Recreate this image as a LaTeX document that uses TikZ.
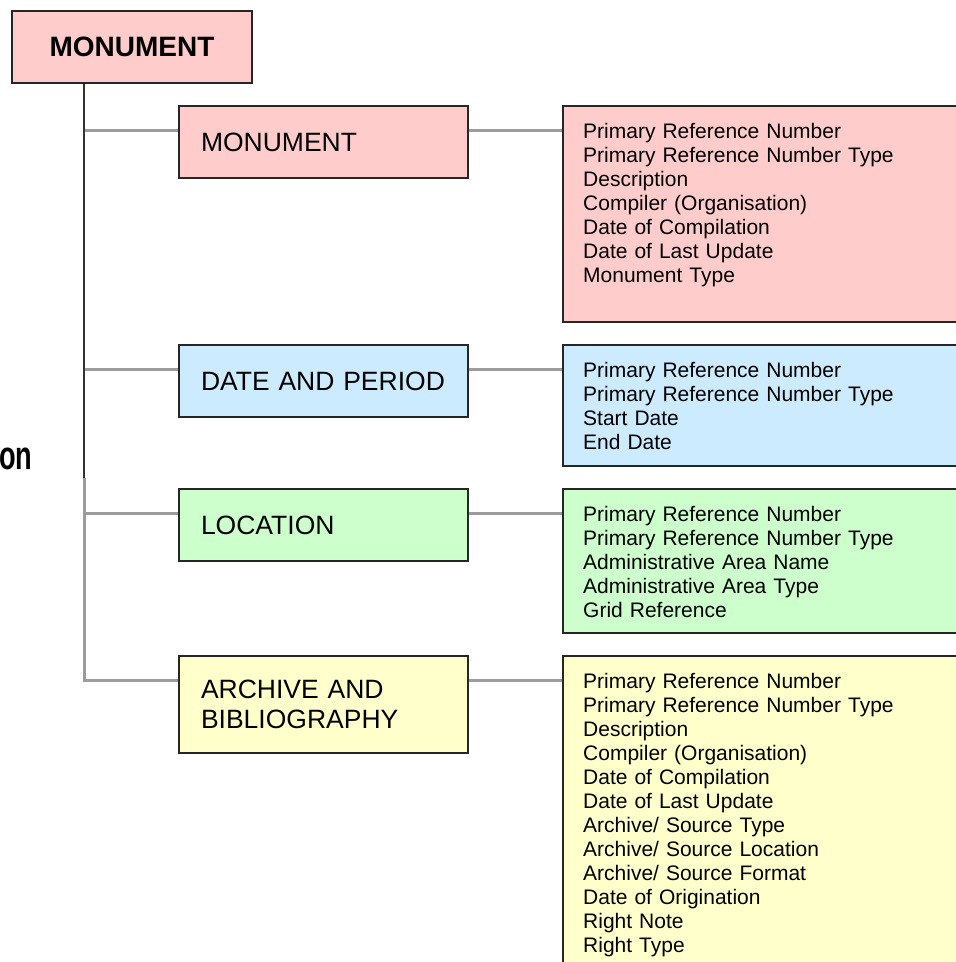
\documentclass[tikz,border=0pt]{standalone}
\usepackage{fontspec}
\setmainfont{Liberation Sans}
\usetikzlibrary{positioning}

\definecolor{monpink}{HTML}{FFCCCC}
\definecolor{dateblue}{HTML}{CCEBFF}
\definecolor{locgreen}{HTML}{CCFFCC}
\definecolor{archyellow}{HTML}{FFFFCC}
\definecolor{linegray}{HTML}{9C9C9C}

\tikzset{
    headbox/.style={draw=black!85, line width=2pt, anchor=north west,
        minimum width=289pt, minimum height=72pt, text width=245pt,
        align=left, inner xsep=22pt, font=\fontsize{26.5}{30}\selectfont},
    listbox/.style={draw=black!85, line width=2pt, anchor=north west,
        minimum width=430pt, inner sep=0pt},
    listtext/.style={anchor=base west, text width=360pt, align=left,
        inner sep=0pt, font=\fontsize{21}{24}\selectfont},
    branch/.style={draw=linegray, line width=3pt},
    trunk/.style={draw=black!80, line width=2.6pt}
}

\begin{document}
\begin{tikzpicture}[x=1pt, y=-1pt]
    \useasboundingbox (0,0) rectangle (956,962);

    % Top of the tree
    \node[draw=black!85, line width=2pt, fill=monpink, anchor=north west,
        minimum width=240pt, minimum height=72pt,
        font=\bfseries\fontsize{28}{30}\selectfont] (top) at (11,10) {MONUMENT};
    \node[anchor=base west, inner sep=0pt, font=\bfseries\fontsize{40}{42}\selectfont]
        (cut) at (-1,469) {\scalebox{0.68}[1]{on}};
    \coordinate (spine) at (84,478);

    % Groups
    \node[headbox, fill=monpink] (mon) at (178,105) {MONUMENT};
    \node[headbox, fill=dateblue] (date) at (178,344) {DATE AND PERIOD};
    \node[headbox, fill=locgreen] (loc) at (178,488) {LOCATION};
    \node[headbox, fill=archyellow, minimum height=97pt] (arch) at (178,655)
        {ARCHIVE AND\\BIBLIOGRAPHY};

    % Field lists
    \node[listbox, fill=monpink, minimum height=216pt] (monlist) at (562,105) {};
    \node[listtext] (montxt) at ([xshift=21pt, yshift=-33pt]monlist.north west)
        {Primary Reference Number\\Primary Reference Number Type\\Description\\
         Compiler (Organisation)\\Date of Compilation\\Date of Last Update\\Monument Type};

    \node[listbox, fill=dateblue, minimum height=121pt] (datelist) at (562,344) {};
    \node[listtext] (datetxt) at ([xshift=21pt, yshift=-33pt]datelist.north west)
        {Primary Reference Number\\Primary Reference Number Type\\Start Date\\End Date};

    \node[listbox, fill=locgreen, minimum height=144pt] (loclist) at (562,488) {};
    \node[listtext] (loctxt) at ([xshift=21pt, yshift=-33pt]loclist.north west)
        {Primary Reference Number\\Primary Reference Number Type\\Administrative Area Name\\
         Administrative Area Type\\Grid Reference};

    \node[listbox, fill=archyellow, minimum height=330pt] (archlist) at (562,655) {};
    \node[listtext] (archtxt) at ([xshift=21pt, yshift=-33pt]archlist.north west)
        {Primary Reference Number\\Primary Reference Number Type\\Description\\
         Compiler (Organisation)\\Date of Compilation\\Date of Last Update\\
         Archive/ Source Type\\Archive/ Source Location\\Archive/ Source Format\\
         Date of Origination\\Right Note\\Right Type};

    % Connectors
    \draw[branch] (spine) |- ([yshift=-25pt]arch.north west);
    \foreach \g in {mon,date,loc} {
        \draw[branch] ([yshift=-25pt]\g.north west) -- ([yshift=-25pt]\g.north west -| spine);
    }
    \foreach \g in {mon,date,loc,arch} {
        \draw[branch] ([yshift=-25pt]\g.north east) -- ([yshift=-25pt]\g list.north west);
    }
    \draw[trunk] (top.south -| spine) -- (spine);
\end{tikzpicture}
\end{document}
